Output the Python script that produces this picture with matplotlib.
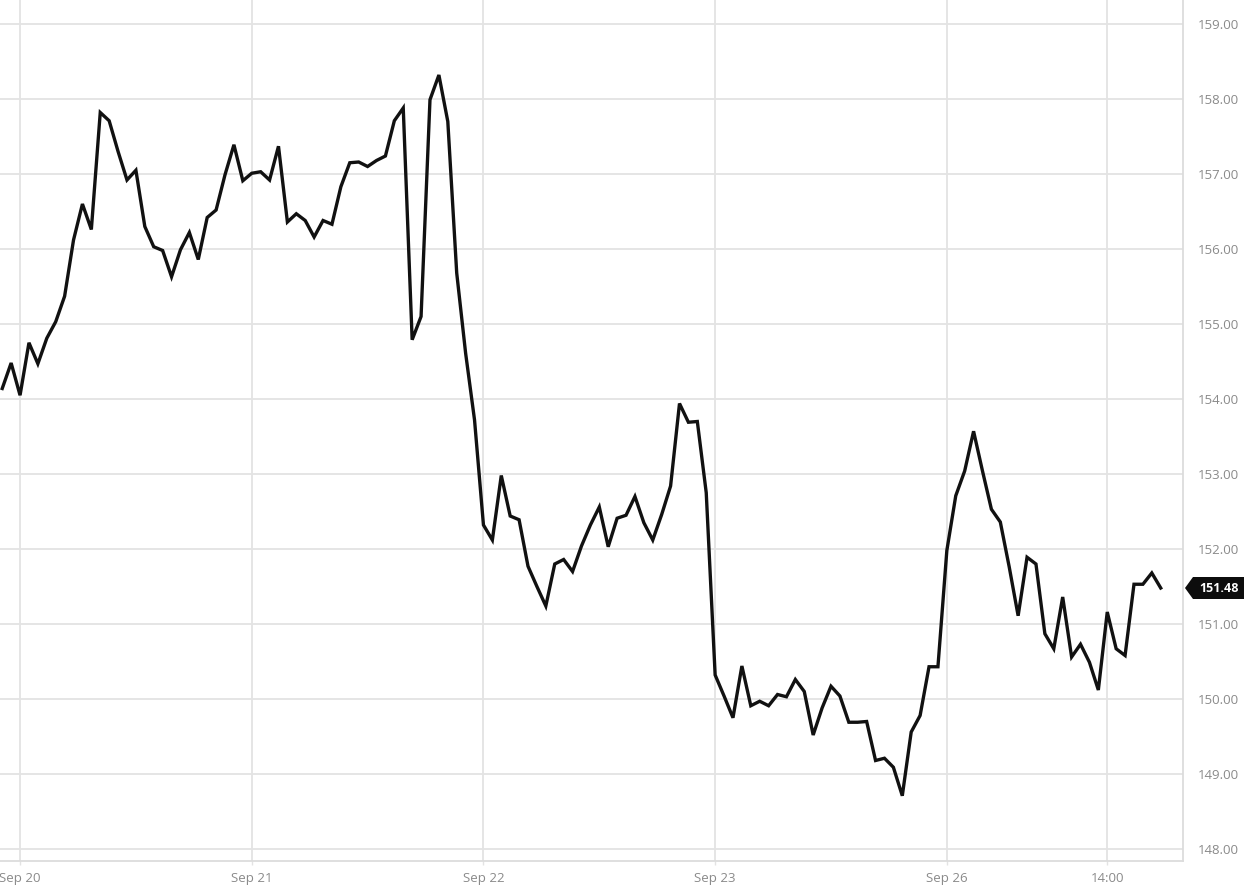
import matplotlib
matplotlib.use("Agg")
import matplotlib.pyplot as plt
import matplotlib.transforms as mtransforms
from matplotlib.patches import Polygon

# 15-minute closing prices (bar index 0..130)
prices = [
    154.14, 154.48, 154.05, 154.75, 154.47, 154.81, 155.03, 155.37, 156.12, 156.60,
    156.26, 157.82, 157.71, 157.30, 156.92, 157.05, 156.30, 156.03, 155.98, 155.63,
    155.99, 156.22, 155.86, 156.42, 156.52, 156.99, 157.39, 156.91, 157.01, 157.03,
    156.92, 157.37, 156.36, 156.47, 156.38, 156.16, 156.38, 156.33, 156.83, 157.15,
    157.16, 157.10, 157.18, 157.24, 157.71, 157.88, 154.79, 155.10, 157.99, 158.32,
    157.70, 155.68, 154.61, 153.72, 152.32, 152.12, 152.98, 152.44, 152.39, 151.77,
    151.50, 151.24, 151.80, 151.86, 151.70, 152.04, 152.32, 152.56, 152.03, 152.41,
    152.45, 152.70, 152.35, 152.12, 152.46, 152.84, 153.94, 153.69, 153.70, 152.75,
    150.32, 150.04, 149.75, 150.44, 149.91, 149.97, 149.91, 150.06, 150.03, 150.26,
    150.10, 149.52, 149.88, 150.17, 150.04, 149.69, 149.69, 149.70, 149.18, 149.21,
    149.09, 148.71, 149.56, 149.78, 150.43, 150.43, 151.98, 152.71, 153.04, 153.57,
    153.04, 152.53, 152.36, 151.76, 151.11, 151.89, 151.80, 150.87, 150.67, 151.36,
    150.56, 150.73, 150.49, 150.12, 151.16, 150.67, 150.58, 151.53, 151.53, 151.68,
    151.48,
]
bar_index = list(range(len(prices)))

x_tick_positions = [2, 28, 54, 80, 106, 124]
x_tick_labels = ["Sep 20", "Sep 21", "Sep 22", "Sep 23", "Sep 26", "14:00"]
y_ticks = [148, 149, 150, 151, 152, 153, 154, 155, 156, 157, 158, 159]
last_price = 151.48

plt.rcParams["font.family"] = ["Open Sans", "DejaVu Sans"]

fig = plt.figure(figsize=(12.48, 8.9), dpi=100)
ax = fig.add_axes([0.0, 1 - 861 / 890, 1183 / 1248, 861 / 890])

ax.plot(bar_index, prices, color="#111111", lw=2.4, solid_joinstyle="miter", zorder=3)

ax.set_xlim(-0.25, 132.5)
ax.set_ylim(147.84, 159.32)

grid_color = "#e3e3e3"
ax.set_yticks(y_ticks)
ax.set_yticklabels([f"{v:.2f}" for v in y_ticks])
ax.set_xticks(x_tick_positions)
ax.set_xticklabels(x_tick_labels)
ax.grid(True, color=grid_color, lw=1.3, zorder=0)

ax.yaxis.tick_right()
ax.tick_params(axis="y", length=0, pad=11, labelsize=9.5, labelcolor="#8a8a8a")
ax.tick_params(axis="x", length=3, width=1.0, color=grid_color, pad=5,
               labelsize=9.5, labelcolor="#8a8a8a")

for s in ["top", "left"]:
    ax.spines[s].set_visible(False)
for s in ["bottom", "right"]:
    ax.spines[s].set_color("#dcdcdc")
    ax.spines[s].set_linewidth(1.3)

# last-price marker
blend = mtransforms.blended_transform_factory(ax.transAxes, ax.transData)
tr = fig.dpi_scale_trans + mtransforms.ScaledTranslation(1.0, last_price, blend)
poly = Polygon([(0.02, 0.0), (0.10, 0.11), (0.61, 0.11), (0.61, -0.11), (0.10, -0.11)],
               closed=True, facecolor="#0d0d0d", edgecolor="none",
               transform=tr, clip_on=False, zorder=5)
ax.add_patch(poly)
ax.text(0.355, 0.0, f"{last_price:.2f}", transform=tr, color="white",
        fontsize=9, fontweight="bold", ha="center", va="center", zorder=6, clip_on=False)

fig.savefig("out.png", dpi=100)
